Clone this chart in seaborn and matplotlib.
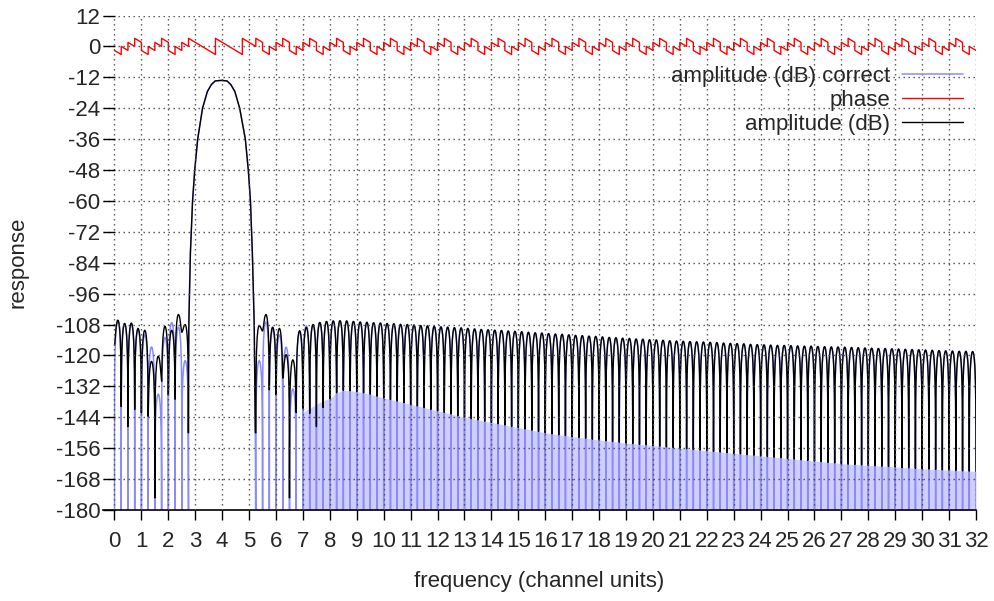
import numpy as np
import matplotlib
matplotlib.use("Agg")
import matplotlib.pyplot as plt
import seaborn as sns

lobe_w = 0.25  # channel units between nulls

# sidelobes left of the main lobe: lobes start at 0, 0.25 .. 2.5, nulls at 0 .. 2.75
left_peak_black = [-106.3, -107.6, -107.4, -109.5, -110.2, -122.3, -120.3, -108.7, -110.2, -104.1, -108.0]
left_null_black = [-116.0, -139.8, -147.6, -141.0, -142.3, -143.6, -175.3, -130.0, -135.3, -137.0, -111.0, -150.0]
left_peak_blue = [-106.5, -107.6, -107.8, -110.0, -112.0, -116.7, -135.0, -113.0, -107.2, -109.0, -122.0]

# main lobe
main_x = [2.74, 2.75, 2.76, 2.82, 2.90, 2.98, 3.09, 3.27, 3.45, 3.60, 3.74, 3.96,
          4.18, 4.32, 4.47, 4.65, 4.86, 4.97, 5.05, 5.12, 5.19, 5.21, 5.23]
main_db = [-150.0, -130.0, -108.0, -80.0, -60.0, -48.0, -36.0, -24.0, -17.5, -14.8, -13.4, -13.2,
           -13.4, -14.8, -17.5, -24.0, -36.0, -48.0, -60.0, -80.0, -108.0, -130.0, -150.0]

# sidelobes right of the main lobe: lobes start at 5.25 .. 31.75, nulls at 5.25 .. 32
right_peak_black = [
    -108.4, -104.1, -109.0, -109.5, -119.7, -121.7, -110.4, -109.1, -108.0, -107.2, -106.8, -106.6, -106.5, -106.6, -106.8,
    -107.0, -107.1, -107.3, -107.4,
    -107.6, -107.7, -107.9, -108.0,
    -108.2, -108.4, -108.5, -108.7,
    -108.9, -109.0, -109.2, -109.3,
    -109.5, -109.7, -109.9, -110.0,
    -110.2, -110.3, -110.5, -110.6,
    -110.8, -111.0, -111.2, -111.3,
    -111.5, -111.7, -111.8, -112.0,
    -112.2, -112.3, -112.5, -112.6,
    -112.8, -113.0, -113.1, -113.3,
    -113.4, -113.6, -113.7, -113.9,
    -114.0, -114.1, -114.3, -114.4,
    -114.5, -114.6, -114.7, -114.8,
    -114.9, -115.0, -115.2, -115.3,
    -115.4, -115.5, -115.7, -115.8,
    -115.9, -116.0, -116.1, -116.1,
    -116.2, -116.3, -116.4, -116.4,
    -116.5, -116.6, -116.7, -116.7,
    -116.8, -116.9, -117.0, -117.1,
    -117.2, -117.3, -117.3, -117.4,
    -117.5, -117.6, -117.7, -117.8,
    -117.9, -118.0, -118.1, -118.2,
    -118.3, -118.4, -118.4, -118.5,
]
right_null_black = [
    -150.0, -110.5, -133.3, -135.2, -128.8, -175.3, -142.2, -140.5, -142.5, -147.6, -140.2, -136.7, -134.5, -133.5, -133.7,
    -134.0, -134.5, -135.0, -135.8,
    -136.5, -137.1, -137.7, -138.3,
    -139.0, -139.6, -140.2, -140.9,
    -141.5, -142.1, -142.7, -143.4,
    -144.0, -144.5, -145.0, -145.5,
    -146.0, -146.5, -147.0, -147.5,
    -148.0, -148.5, -149.0, -149.5,
    -150.0, -150.4, -150.8, -151.1,
    -151.5, -151.8, -152.1, -152.5,
    -152.8, -153.1, -153.4, -153.7,
    -154.0, -154.2, -154.5, -154.7,
    -155.0, -155.2, -155.5, -155.7,
    -156.0, -156.2, -156.5, -156.7,
    -157.0, -157.2, -157.5, -157.7,
    -158.0, -158.2, -158.5, -158.7,
    -159.0, -159.2, -159.5, -159.7,
    -160.0, -160.2, -160.5, -160.7,
    -161.0, -161.2, -161.5, -161.7,
    -162.0, -162.2, -162.3, -162.5,
    -162.7, -162.8, -163.0, -163.1,
    -163.3, -163.5, -163.6, -163.8,
    -164.0, -164.1, -164.2, -164.4,
    -164.5, -164.6, -164.8, -164.9,
    -165.0,
]
right_peak_blue_near = [-122.0, -107.0, -110.0, -112.0, -116.8, -133.0, -111.0, -108.5]
# top of the light blue floor at nulls 5.25 .. 7.75 (-200 = no floor), further right it follows the black nulls
blue_floor_near = [-200.0, -200.0, -200.0, -200.0, -200.0, -200.0, -200.0, -142.0, -140.5, -139.0, -137.5]

# phase (rad) at start / end of each sidelobe, pattern repeats every channel (lobes at .00 .25 .50 .75)
phase_left_start = [-1.57, 0.0, 1.57, 3.14]
phase_left_end = [-3.14, -1.57, 0.0, 1.57]
phase_right_start = [1.57, 3.14, -1.57, 0.0]
phase_right_end = [0.0, 1.57, -3.14, -1.57]
main_phase_x = [2.75, 3.75, 3.75, 4.75, 4.75, 5.25]
main_phase = [3.14, -3.14, 3.14, -3.14, 3.14, 0.0]

xticks = list(range(0, 33))
yticks = list(range(-180, 13, 12))

# sampling inside one lobe
frac = np.r_[0.0, 0.0005, 0.002, 0.005, 0.01, 0.02, 0.035, 0.05, 0.075,
             np.arange(0.1, 0.91, 0.05), 0.925, 0.95, 0.965, 0.98, 0.99, 0.995, 0.998, 0.9995]
with np.errstate(divide="ignore"):
    drop = 20 * np.log10(np.sin(np.pi * frac))
fade = np.cos(np.pi * frac) ** 2


def lobe_curve(start, peaks, nulls):
    xs, ys = [], []
    for i, p in enumerate(peaks):
        n = np.where(frac < 0.5, nulls[i], nulls[i + 1])
        y = 10 * np.log10(10 ** ((p + drop) / 10) + fade * 10 ** (n / 10))
        xs.append(start + (i + frac) * lobe_w)
        ys.append(y)
    xs.append([start + len(peaks) * lobe_w])
    ys.append([nulls[-1]])
    return np.concatenate(xs), np.concatenate(ys)


# black curve
lx, ly = lobe_curve(0.0, left_peak_black, left_null_black)
rx, ry = lobe_curve(5.25, right_peak_black, right_null_black)
black_x = np.concatenate([lx, main_x, rx])
black_y = np.concatenate([ly, main_db, ry])

# blue curve
right_peak_blue = right_peak_blue_near + right_peak_black[len(right_peak_blue_near):]
blx, bly = lobe_curve(0.0, left_peak_blue, [-200.0] * (len(left_peak_blue) + 1))
brx, bry = lobe_curve(5.25, right_peak_blue, [-200.0] * (len(right_peak_blue) + 1))
blue_x = np.concatenate([blx, main_x, brx])
blue_y = np.concatenate([bly, main_db, bry])
null_x = 5.25 + lobe_w * np.arange(len(right_null_black))
floor_db = np.array(blue_floor_near + right_null_black[len(blue_floor_near):])

# phase curve
ph_x, ph_y = [], []
for k in range(len(left_peak_black)):
    ph_x += [k * lobe_w, (k + 1) * lobe_w]
    ph_y += [phase_left_start[k % 4], phase_left_end[k % 4]]
ph_x += main_phase_x
ph_y += main_phase
for k in range(21, 21 + len(right_peak_black)):
    ph_x += [k * lobe_w, (k + 1) * lobe_w]
    ph_y += [phase_right_start[k % 4], phase_right_end[k % 4]]

sns.set_theme(style="white")
plt.rcParams["font.family"] = ["Liberation Sans", "DejaVu Sans"]
plt.rcParams["font.size"] = 16

fig = plt.figure(figsize=(9.95, 6.01), dpi=100)
ax = fig.add_axes([103 / 995, 91 / 601, 873 / 995, 494.5 / 601])

blue_c = "#8a8aff"
ax.fill_between(null_x, -200, floor_db, where=floor_db > -200, color="#cfcfff", lw=0, zorder=1)
sns.lineplot(x=blue_x, y=blue_y, sort=False, estimator=None, ax=ax, color=blue_c, lw=1.1,
             label="amplitude (dB) correct")
sns.lineplot(x=ph_x, y=ph_y, sort=False, estimator=None, ax=ax, color="#ff0000", lw=1.0,
             label="phase")
sns.lineplot(x=black_x, y=black_y, sort=False, estimator=None, ax=ax, color="black", lw=1.0,
             label="amplitude (dB)")

ax.set_xlim(-0.427, 32)
ax.set_ylim(-180, 12)
ax.set_xticks(xticks)
ax.set_xticklabels([str(t) for t in xticks])
ax.set_yticks(yticks)
ax.set_yticklabels([str(t) for t in yticks])

ax.grid(True, linestyle=(0, (1, 2.6)), color="0.3", linewidth=1.0)
ax.set_axisbelow(False)
for s in ["top", "right", "left"]:
    ax.spines[s].set_visible(False)
ax.spines["bottom"].set_color("black")
ax.spines["bottom"].set_linewidth(1.2)
ax.tick_params(axis="x", direction="out", length=7, width=1.0, color="black", pad=8,
               labelsize=16, bottom=True)
ax.tick_params(axis="y", direction="in", length=8.3, width=1.0, color="black", pad=2,
               labelsize=16, left=True)

ax.set_xlabel("frequency (channel units)", fontsize=16)
ax.set_ylabel("response", fontsize=16)
ax.xaxis.set_label_coords(0.5, -0.1234)
ax.yaxis.set_label_coords(-0.0848, 0.5)

handles, labels = ax.get_legend_handles_labels()
ax.legend(handles, labels, loc="upper right", bbox_to_anchor=(963 / 995, 1 - 66 / 601),
          bbox_transform=fig.transFigure, frameon=False, markerfirst=False,
          handlelength=2.75, handletextpad=0.54, labelspacing=0.13, borderpad=0,
          borderaxespad=0, fontsize=16)

fig.savefig("out.png", dpi=100)
